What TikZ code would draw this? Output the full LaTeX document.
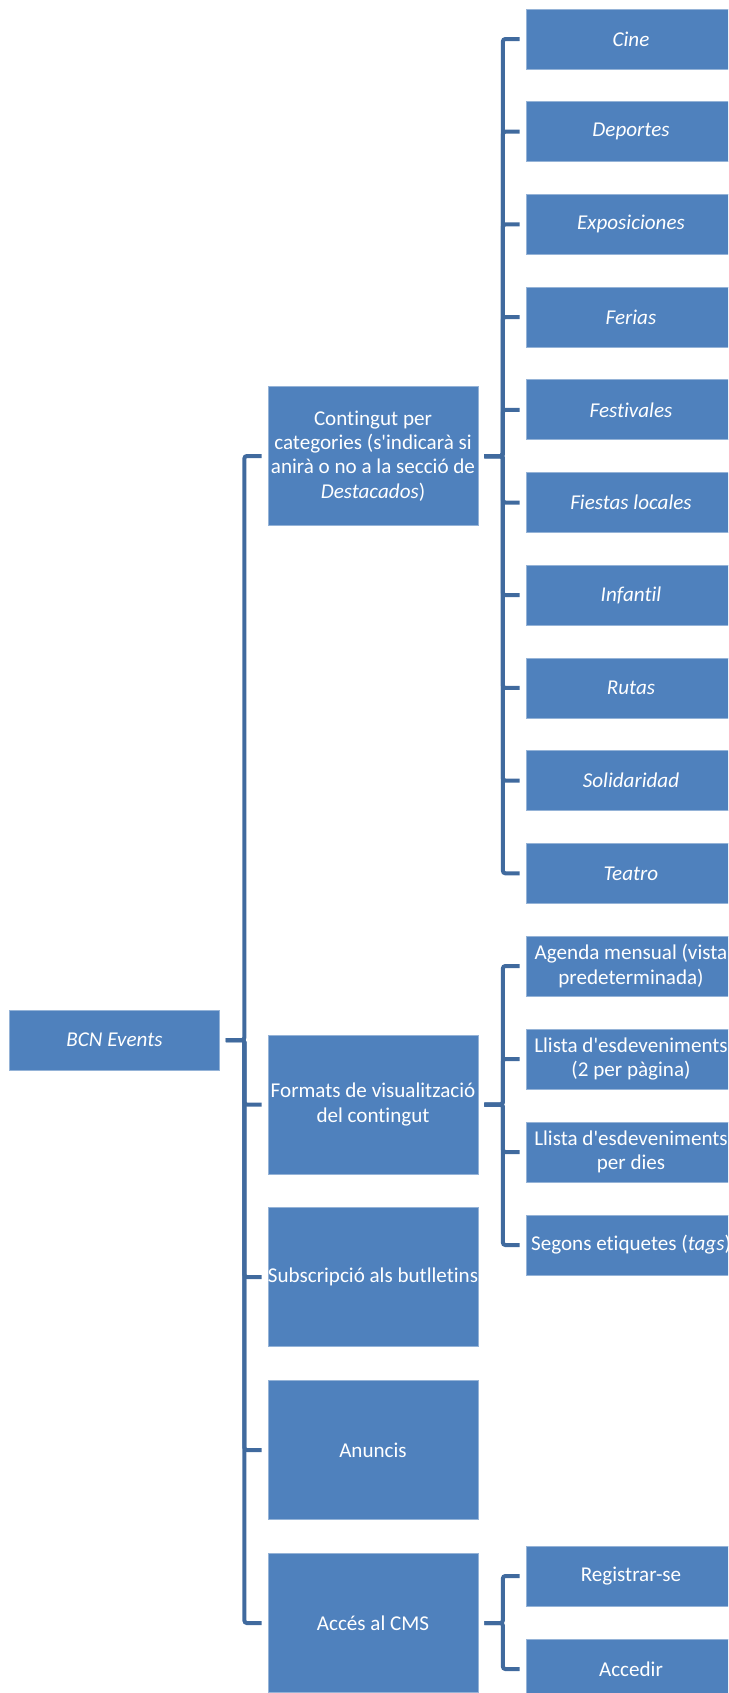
\documentclass[tikz,border=0pt]{standalone}
\usepackage{fontspec}
\setmainfont{Carlito}[Ligatures=NoCommon]
\usepackage{tikz}

\definecolor{boxblue}{RGB}{79,129,189}
\definecolor{linkblue}{RGB}{64,106,158}

\begin{document}
\begin{tikzpicture}[x=0.2mm, y=-0.2mm,
	box/.style={shape=rectangle, fill=boxblue, draw=boxblue!60!white, line width=0.15mm,
		text=white, align=center, inner sep=0pt, minimum width=42mm, minimum height=12mm,
		font=\fontsize{12pt}{13.8pt}\selectfont},
	tall/.style={box, minimum height=27.8mm},
	link/.style={line width=0.8mm, draw=linkblue, rounded corners=0.5mm,
		to path={([xshift=1.2mm]\tikztostart.east) -- ++(3.7mm,0) |- ([xshift=-1.2mm]\tikztotarget.west)}}]

	\clip (0, 0) rectangle (728, 1693);

	\node[box] (root) at (114.5, 1040)  {\textit{BCN Events}};

	\node[tall] (cont) at (373, 456)    {Contingut per\\categories (s\textquotesingle indicarà si\\anirà o no a la secció de\\\textit{Destacados})};
	\node[tall] (form) at (373, 1104.5) {\makebox[0pt]{Formats de visualització}\\del contingut};
	\node[tall] (subs) at (373, 1277)   {\makebox[0pt]{Subscripció als butlletins}};
	\node[tall] (anun) at (373, 1450)   {Anuncis};
	\node[tall] (cms)  at (373, 1623)   {Accés al CMS};

	\node[box] (cine) at (631, 39)    {\textit{Cine}};
	\node[box] (depo) at (631, 131.7) {\textit{Deportes}};
	\node[box] (expo) at (631, 224.4) {\textit{Exposiciones}};
	\node[box] (feri) at (631, 317.1) {\textit{Ferias}};
	\node[box] (fest) at (631, 409.8) {\textit{Festivales}};
	\node[box] (fies) at (631, 502.5) {\textit{Fiestas locales}};
	\node[box] (infa) at (631, 595.2) {\textit{Infantil}};
	\node[box] (ruta) at (631, 687.9) {\textit{Rutas}};
	\node[box] (soli) at (631, 780.6) {\textit{Solidaridad}};
	\node[box] (teat) at (631, 873.3) {\textit{Teatro}};

	\node[box] (agen) at (631, 966)  {\makebox[0pt]{Agenda mensual (vista}\\predeterminada)};
	\node[box] (lli2) at (631, 1059) {\makebox[0pt]{Llista d\textquotesingle esdeveniments}\\(2 per pàgina)};
	\node[box] (llid) at (631, 1152) {\makebox[0pt]{Llista d\textquotesingle esdeveniments}\\per dies};
	\node[box] (sego) at (631, 1245) {\makebox[0pt]{Segons etiquetes (\textit{tags})}};

	\node[box] (regi) at (631, 1576) {Registrar-se};
	\node[box] (acce) at (631, 1669) {Accedir};

	\path[link] (root) edge (cont);
	\path[link] (root) edge (form);
	\path[link] (root) edge (subs);
	\path[link] (root) edge (anun);
	\path[link] (root) edge (cms);

	\path[link] (cont) edge (cine);
	\path[link] (cont) edge (depo);
	\path[link] (cont) edge (expo);
	\path[link] (cont) edge (feri);
	\path[link] (cont) edge (fest);
	\path[link] (cont) edge (fies);
	\path[link] (cont) edge (infa);
	\path[link] (cont) edge (ruta);
	\path[link] (cont) edge (soli);
	\path[link] (cont) edge (teat);

	\path[link] (form) edge (agen);
	\path[link] (form) edge (lli2);
	\path[link] (form) edge (llid);
	\path[link] (form) edge (sego);

	\path[link] (cms) edge (regi);
	\path[link] (cms) edge (acce);

\end{tikzpicture}
\end{document}
